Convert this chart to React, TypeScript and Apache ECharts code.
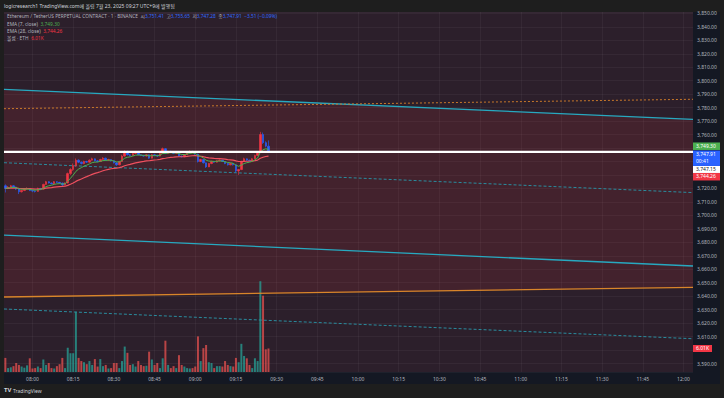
import React, { useEffect, useRef } from "react";
import * as echarts from "echarts";

// ---------- data ----------
const tickLabels = ["08:00", "08:15", "08:30", "08:45", "09:00", "09:15", "09:30", "09:45", "10:00", "10:15", "10:30", "10:45", "11:00", "11:15", "11:30", "11:45", "12:00"];
const firstMinute = 7 * 60 + 50; // 07:50
const minuteCount = 254;

// [open, close, low, high]
const candles: number[][] = [
  [3722.0, 3720.0, 3717.0, 3723.0], [3720.0, 3721.0, 3719.5, 3721.8], [3721.0, 3722.0, 3720.5, 3722.6], [3722.0, 3721.0, 3720.5, 3722.4],
  [3721.0, 3719.5, 3718.8, 3721.3], [3719.5, 3717.5, 3715.8, 3719.8], [3717.5, 3718.5, 3717.0, 3719.0], [3718.5, 3719.5, 3718.0, 3720.0],
  [3719.5, 3720.0, 3719.0, 3720.8], [3720.0, 3718.5, 3718.0, 3720.3], [3718.5, 3718.0, 3717.2, 3718.9], [3718.0, 3717.8, 3717.0, 3718.5],
  [3717.8, 3720.0, 3717.5, 3720.6], [3720.0, 3719.5, 3719.0, 3720.4], [3719.5, 3723.0, 3719.2, 3723.5], [3723.0, 3725.0, 3722.6, 3725.6],
  [3725.0, 3724.0, 3723.6, 3725.4], [3724.0, 3723.5, 3723.0, 3724.4], [3723.5, 3725.0, 3723.2, 3725.5], [3725.0, 3724.5, 3724.0, 3725.3],
  [3724.5, 3724.0, 3723.5, 3724.9], [3724.0, 3722.5, 3722.0, 3724.3], [3722.5, 3724.0, 3722.2, 3724.5], [3724.0, 3731.0, 3723.8, 3731.8],
  [3731.0, 3734.0, 3730.0, 3735.0], [3734.0, 3737.0, 3733.0, 3738.5], [3737.0, 3741.0, 3736.0, 3742.3], [3741.0, 3739.5, 3738.8, 3741.6],
  [3739.5, 3738.5, 3737.8, 3740.0], [3738.5, 3740.0, 3738.0, 3740.6], [3740.0, 3739.5, 3739.0, 3740.5], [3739.5, 3741.0, 3739.2, 3741.6],
  [3741.0, 3742.0, 3740.6, 3742.8], [3742.0, 3740.5, 3740.0, 3742.3], [3740.5, 3740.0, 3739.4, 3741.0], [3740.0, 3741.5, 3739.8, 3742.0],
  [3741.5, 3742.5, 3741.0, 3743.2], [3742.5, 3741.0, 3740.6, 3742.8], [3741.0, 3741.5, 3740.5, 3742.0], [3741.5, 3740.5, 3740.0, 3741.8],
  [3740.5, 3739.0, 3738.5, 3740.8], [3739.0, 3737.5, 3736.8, 3739.3], [3737.5, 3740.0, 3737.2, 3740.5], [3740.0, 3744.0, 3739.6, 3745.0],
  [3744.0, 3747.5, 3743.5, 3748.3], [3747.5, 3745.0, 3744.5, 3748.0], [3745.0, 3744.5, 3743.8, 3745.6], [3744.5, 3746.0, 3744.2, 3746.6],
  [3746.0, 3746.5, 3745.5, 3747.2], [3746.5, 3745.0, 3744.6, 3746.8], [3745.0, 3744.5, 3744.0, 3745.4], [3744.5, 3744.0, 3743.5, 3744.9],
  [3744.0, 3745.0, 3743.7, 3745.5], [3745.0, 3742.5, 3742.0, 3745.3], [3742.5, 3745.0, 3742.3, 3745.6], [3745.0, 3744.5, 3744.0, 3745.5],
  [3744.5, 3744.0, 3743.4, 3744.9], [3744.0, 3746.0, 3743.8, 3746.5], [3746.0, 3749.5, 3745.8, 3750.3], [3749.5, 3746.0, 3745.5, 3749.9],
  [3746.0, 3747.5, 3745.7, 3748.0], [3747.5, 3747.0, 3746.5, 3748.0], [3747.0, 3746.0, 3745.5, 3747.3], [3746.0, 3746.5, 3745.6, 3747.0],
  [3746.5, 3744.0, 3743.5, 3746.8], [3744.0, 3743.5, 3743.0, 3744.4], [3743.5, 3745.0, 3743.2, 3745.5], [3745.0, 3746.5, 3744.8, 3747.0],
  [3746.5, 3747.5, 3746.2, 3748.3], [3747.5, 3747.0, 3746.5, 3748.0], [3747.0, 3745.5, 3745.0, 3747.3], [3745.5, 3740.0, 3739.2, 3745.8],
  [3740.0, 3741.5, 3739.5, 3742.0], [3741.5, 3739.0, 3738.5, 3741.8], [3739.0, 3736.0, 3735.2, 3739.3], [3736.0, 3738.5, 3735.8, 3739.0],
  [3738.5, 3740.0, 3738.0, 3740.6], [3740.0, 3739.5, 3739.0, 3740.4], [3739.5, 3740.5, 3739.2, 3741.0], [3740.5, 3741.0, 3740.0, 3741.6],
  [3741.0, 3740.0, 3739.6, 3741.3], [3740.0, 3738.5, 3738.0, 3740.3], [3738.5, 3737.5, 3737.0, 3738.8], [3737.5, 3738.5, 3737.2, 3739.0],
  [3738.5, 3737.5, 3737.0, 3738.8], [3737.5, 3733.0, 3731.8, 3737.8], [3733.0, 3734.0, 3730.0, 3734.5], [3734.0, 3740.0, 3733.6, 3740.6],
  [3740.0, 3742.0, 3739.5, 3742.8], [3742.0, 3741.0, 3740.5, 3742.3], [3741.0, 3740.5, 3740.0, 3741.4], [3740.5, 3742.0, 3740.2, 3742.5],
  [3742.0, 3744.5, 3741.8, 3745.0], [3744.5, 3747.0, 3744.2, 3747.8], [3747.0, 3760.0, 3746.8, 3762.0], [3760.0, 3754.0, 3753.0, 3761.5],
  [3754.0, 3751.41, 3750.5, 3755.0], [3751.41, 3747.91, 3747.28, 3755.65],
];

// volume in thousands (K)
const volumes = [
  3.6, 1.0, 1.2, 1.5, 2.3, 1.8, 1.4, 1.1, 1.7, 3.5,
  0.9, 1.0, 1.4, 1.0, 3.2, 1.8, 2.3, 1.0, 0.9, 1.5,
  2.0, 3.6, 1.0, 6.2, 4.8, 4.8, 15.4, 3.6, 2.8, 2.5,
  2.0, 2.8, 1.8, 3.3, 1.4, 3.3, 1.5, 1.8, 0.9, 1.0,
  2.3, 2.3, 1.0, 2.8, 6.5, 4.9, 1.8, 2.0, 1.4, 2.8,
  1.8, 1.5, 1.6, 5.2, 3.2, 1.8, 2.3, 1.0, 3.5, 8.0,
  1.8, 1.0, 1.5, 1.0, 4.3, 1.8, 1.4, 1.0, 0.9, 1.0,
  1.4, 9.1, 2.8, 6.1, 6.9, 2.5, 2.3, 1.0, 1.5, 1.5,
  1.4, 2.8, 1.8, 1.5, 1.4, 3.6, 2.5, 7.2, 4.1, 3.5,
  1.8, 1.0, 3.5, 2.8, 23.2, 19.5, 5.8, 6.01,
];

// drawn trend lines: [price at left edge, price at right edge]
const upperChannel = [3793.6, 3771.2];
const upperOrangeDashed = [3779.2, 3786.2];
const midCyanDashed = [3739.1, 3716.9];
const lowerCyan = [3685.3, 3662.4];
const orangeSolid = [3639.4, 3646.6];
const lowerCyanDashed = [3630.5, 3608.4];
const horizontalLevel = 3747.15;

// price ticks hidden behind the axis price tags
const coveredTicks = [3600, 3730, 3740, 3750];

const priceMin = 3583.7;
const priceMax = 3851.0;
const volumeMax = 92;

const lastEma7 = 3749.3;
const lastEma28 = 3744.26;
const lastClose = 3747.91;
const lastVolume = 6.01;

const UP = "#f23645";
const DOWN = "#2962ff";
const VOL_UP = "rgba(38,166,154,0.72)";
const VOL_DOWN = "rgba(239,83,80,0.72)";
const FONT = "Noto Sans, Noto Sans CJK KR, sans-serif";

const fmt = (v: number) => v.toLocaleString("en-US", { minimumFractionDigits: 2, maximumFractionDigits: 2 });
const pad = (n: number) => (n < 10 ? "0" + n : "" + n);

function ema(values: number[], period: number) {
  const k = 2 / (period + 1);
  let prev = values[0];
  return values.map((v, i) => {
    if (i === 0) return v;
    prev = v * k + prev * (1 - k);
    return +prev.toFixed(2);
  });
}

export default function App() {
  const ref = useRef<HTMLDivElement>(null);

  useEffect(() => {
    const chart = echarts.init(ref.current!, null, { renderer: "svg" });
    const minutes: string[] = [];
    for (let i = 0; i < minuteCount; i++) {
      const m = firstMinute + i;
      minutes.push(pad(Math.floor(m / 60)) + ":" + pad(m % 60));
    }
    const closes = candles.map((c) => c[1]);
    const ema7 = ema(closes, 7);
    const ema28 = ema(closes, 28);
    const showTick = (_: number, v: string) => tickLabels.indexOf(v) >= 0;
    const edgeX = [-0.5, minuteCount - 0.5];
    const seg = (arr: number[]) => [[edgeX[0], arr[0]], [edgeX[1], arr[1]]];

    const trend = (name: string, arr: number[], color: string, width: number, type: any, z: number) => ({
      name, type: "line", xAxisIndex: 1, yAxisIndex: 0, data: seg(arr), symbol: "none", silent: true, z,
      lineStyle: { color, width, type },
    });

    const option: any = {
      animation: false,
      backgroundColor: "#1e1e1e",
      textStyle: { fontFamily: FONT },
      grid: { left: 4, top: 12, width: 689, height: 360, show: true, backgroundColor: "#2c1f2b", borderWidth: 0 },
      xAxis: [
        {
          type: "category", data: minutes, boundaryGap: true,
          axisLine: { show: false }, axisTick: { show: false, alignWithLabel: true },
          axisLabel: { interval: showTick, color: "#b2b5be", fontSize: 5, margin: 4, fontFamily: FONT },
          splitLine: { show: true, interval: showTick, alignWithLabel: true, lineStyle: { color: "rgba(255,255,255,0.045)", width: 1 } },
        },
        { type: "value", min: edgeX[0], max: edgeX[1], show: false },
      ],
      yAxis: [
        {
          type: "value", position: "right", min: priceMin, max: priceMax, splitNumber: 27, minInterval: 10, maxInterval: 10,
          axisLine: { show: false }, axisTick: { show: false },
          axisLabel: {
            formatter: (v: number) => (coveredTicks.indexOf(Math.round(v)) >= 0 ? "" : fmt(v)),
            color: "#b2b5be", fontSize: 5, margin: 4, showMinLabel: false, showMaxLabel: false, fontFamily: FONT,
          },
          splitLine: { show: true, lineStyle: { color: "rgba(255,255,255,0.045)", width: 1 } },
        },
        { type: "value", min: 0, max: volumeMax, show: false, splitLine: { show: false } },
      ],
      series: [
        {
          name: "channelFill", type: "custom", xAxisIndex: 1, yAxisIndex: 0, z: 1, silent: true,
          data: [[0, 3700]],
          renderItem: (_params: any, api: any) => ({
            type: "polygon",
            shape: {
              points: [
                api.coord([edgeX[0], upperChannel[0]]),
                api.coord([edgeX[1], upperChannel[1]]),
                api.coord([edgeX[1], orangeSolid[1]]),
                api.coord([edgeX[0], orangeSolid[0]]),
              ],
            },
            style: { fill: "rgba(242,54,69,0.12)" },
          }),
        },
        {
          name: "volume", type: "bar", xAxisIndex: 0, yAxisIndex: 1, barWidth: 2, z: 2, silent: true,
          data: volumes.map((v, i) => ({ value: v, itemStyle: { color: candles[i][1] >= candles[i][0] ? VOL_UP : VOL_DOWN } })),
        },
        trend("upperChannel", upperChannel, "#27a9c0", 1.3, "solid", 3),
        trend("upperOrangeDashed", upperOrangeDashed, "#c8782a", 1, [2, 2], 3),
        trend("midCyanDashed", midCyanDashed, "#2a8c9e", 1, [3, 2], 3),
        trend("lowerCyan", lowerCyan, "#27a9c0", 1.3, "solid", 3),
        trend("orangeSolid", orangeSolid, "#d9852a", 1.3, "solid", 3),
        trend("lowerCyanDashed", lowerCyanDashed, "#2a8c9e", 1, [3, 2], 3),
        {
          name: "candles", type: "candlestick", xAxisIndex: 0, yAxisIndex: 0, barWidth: 2, z: 4, silent: true,
          data: candles,
          itemStyle: { color: UP, color0: DOWN, borderColor: UP, borderColor0: DOWN, borderWidth: 0.6 },
        },
        {
          name: "ema28", type: "line", xAxisIndex: 0, yAxisIndex: 0, data: ema28, symbol: "none", z: 5, silent: true,
          lineStyle: { color: "#f0505f", width: 1.2 },
        },
        {
          name: "ema7", type: "line", xAxisIndex: 0, yAxisIndex: 0, data: ema7, symbol: "none", z: 5, silent: true,
          lineStyle: { color: "#4caf50", width: 1 },
        },
        trend("level", [horizontalLevel, horizontalLevel], "#ffffff", 2.4, "solid", 6),
      ],
    };
    chart.setOption(option);

    const yP = (v: number) => chart.convertToPixel({ yAxisIndex: 0 } as any, v) as number;
    const yV = (v: number) => chart.convertToPixel({ yAxisIndex: 1 } as any, v) as number;
    const axisX = 693;
    const boxW = 27;
    const gTop = yP(lastEma7) - 6.5;
    const bTop = gTop + 8;
    const wTop = bTop + 15.5;
    const rTop = wTop + 7;
    const vTop = yV(lastVolume) - 3.5;

    const box = (top: number, h: number, fill: string, w = boxW) => ({ type: "rect", z: 100, shape: { x: axisX, y: top, width: w, height: h }, style: { fill } });
    const label = (top: number, text: string, color: string) => ({
      type: "text", z: 101, x: axisX + 3, y: top + 1, style: { text, fill: color, fontSize: 5, fontFamily: FONT },
    });

    const legendRich = {
      t: { fill: "#b2b5be", fontSize: 4.8, fontFamily: FONT },
      k: { fill: "#b2b5be", fontSize: 4.8, fontFamily: FONT },
      v: { fill: "#2f6bff", fontSize: 4.8, fontFamily: FONT },
      g: { fill: "#4caf50", fontSize: 4.8, fontFamily: FONT },
      r: { fill: "#f23645", fontSize: 4.8, fontFamily: FONT },
    };

    chart.setOption({
      graphic: [
        { type: "rect", z: -10, shape: { x: 693, y: 12, width: 27, height: 372 }, style: { fill: "#141823" } },
        { type: "rect", z: -10, shape: { x: 4, y: 372, width: 689, height: 12 }, style: { fill: "#141823" } },
        {
          type: "text", z: 50, x: 4, y: 3,
          style: { text: "logicresearch1 TradingView.com에 올림 7월 23, 2025 09:27 UTC+9에 발행됨", fill: "#d1d4dc", fontSize: 5, fontFamily: FONT },
        },
        {
          type: "text", z: 50, x: 7, y: 14,
          style: {
            text: "{t|Ethereum / TetherUS PERPETUAL CONTRACT · 1 · BINANCE}  {k|시}{v|3,751.41}  {k|고}{v|3,755.65}  {k|저}{v|3,747.28}  {k|종}{v|3,747.91}  {v|−3.51 (−0.09%)}",
            rich: legendRich, fontSize: 4.8, fontFamily: FONT,
          },
        },
        { type: "text", z: 50, x: 7, y: 21, style: { text: "{t|EMA (7, close)}  {g|" + fmt(lastEma7) + "}", rich: legendRich, fontSize: 4.8 } },
        { type: "text", z: 50, x: 7, y: 28, style: { text: "{t|EMA (28, close)}  {r|" + fmt(lastEma28) + "}", rich: legendRich, fontSize: 4.8 } },
        { type: "text", z: 50, x: 7, y: 35, style: { text: "{t|볼륨 · ETH}  {r|" + lastVolume.toFixed(2) + "K}", rich: legendRich, fontSize: 4.8 } },
        box(gTop, 7.5, "#4caf50"),
        label(gTop, fmt(lastEma7), "#ffffff"),
        box(bTop, 15.5, "#2962ff"),
        label(bTop, fmt(lastClose), "#ffffff"),
        label(bTop + 7, "00:41", "#ffffff"),
        box(wTop, 7, "#ffffff"),
        label(wTop, fmt(horizontalLevel), "#131722"),
        box(rTop, 7.5, "#f23645"),
        label(rTop, fmt(lastEma28), "#ffffff"),
        box(vTop, 7, "#f23645", 19),
        label(vTop, lastVolume.toFixed(2) + "K", "#ffffff"),
        { type: "text", z: 50, x: 4, y: 387, style: { text: "TV", fill: "#d1d4dc", fontSize: 6, fontWeight: "bold", fontFamily: FONT } },
        { type: "text", z: 50, x: 13, y: 388, style: { text: "TradingView", fill: "#d1d4dc", fontSize: 5, fontFamily: FONT } },
      ],
    });

    return () => chart.dispose();
  }, []);

  return <div ref={ref} style={{ position: "fixed", left: 0, top: 0, width: 724, height: 398 }} />;
}
